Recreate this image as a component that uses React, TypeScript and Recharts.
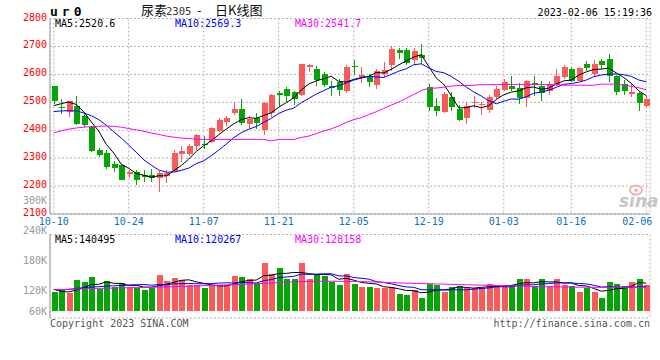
import React from 'react';
import { ComposedChart, Bar, Line, XAxis, YAxis, CartesianGrid } from 'recharts';

const dates = [
  '10-10','10-11','10-12','10-13','10-14','10-17','10-18','10-19','10-20','10-21',
  '10-24','10-25','10-26','10-27','10-28','10-31','11-01','11-02','11-03','11-04',
  '11-07','11-08','11-09','11-10','11-11','11-14','11-15','11-16','11-17','11-18',
  '11-21','11-22','11-23','11-24','11-25','11-28','11-29','11-30','12-01','12-02',
  '12-05','12-06','12-07','12-08','12-09','12-12','12-13','12-14','12-15','12-16',
  '12-19','12-20','12-21','12-22','12-23','12-26','12-27','12-28','12-29','12-30',
  '01-03','01-04','01-05','01-06','01-09','01-10','01-11','01-12','01-13','01-16',
  '01-17','01-18','01-19','01-20','01-30','01-31','02-01','02-02','02-03','02-06',
];

const opens = [
  2557,2484,2465,2487,2452,2412,2330,2319,2280,2276,
  2243,2252,2241,2240,2230,2237,2255,2316,2316,2343,
  2352,2358,2397,2430,2460,2477,2424,2444,2401,2463,
  2535,2549,2538,2525,2625,2620,2601,2558,2571,2542,
  2631,2592,2592,2561,2600,2635,2688,2688,2652,2670,
  2556,2485,2466,2520,2476,2443,2497,2491,2472,2518,
  2545,2557,2551,2516,2569,2557,2540,2563,2590,2620,
  2577,2638,2602,2649,2656,2593,2566,2528,2535,2486,
];
const highs = [
  2560,2512,2506,2523,2460,2414,2338,2328,2288,2278,
  2258,2258,2258,2262,2254,2257,2330,2342,2350,2388,
  2378,2413,2442,2450,2501,2513,2452,2460,2501,2530,
  2542,2554,2539,2638,2638,2629,2608,2577,2583,2635,
  2652,2625,2601,2620,2646,2700,2694,2694,2694,2710,
  2566,2516,2537,2537,2492,2501,2524,2502,2527,2557,
  2585,2593,2569,2581,2593,2577,2575,2620,2635,2623,
  2626,2649,2652,2656,2674,2597,2581,2569,2537,2522,
];
const lows = [
  2494,2457,2448,2418,2413,2322,2305,2260,2251,2220,
  2228,2205,2216,2213,2180,2211,2252,2285,2308,2330,
  2334,2354,2394,2415,2453,2418,2403,2405,2382,2448,
  2486,2500,2489,2522,2607,2557,2554,2524,2524,2533,
  2596,2569,2554,2549,2590,2611,2656,2635,2635,2638,
  2470,2450,2460,2468,2432,2423,2480,2456,2462,2510,
  2542,2539,2494,2483,2522,2504,2525,2557,2585,2571,
  2575,2611,2591,2620,2573,2527,2525,2518,2468,2482,
];
const closes = [
  2506,2478,2503,2422,2420,2326,2313,2267,2264,2222,
  2251,2223,2234,2229,2248,2247,2318,2326,2345,2384,
  2348,2407,2437,2444,2477,2426,2440,2425,2496,2525,
  2526,2522,2510,2636,2634,2581,2563,2552,2543,2625,
  2627,2596,2572,2613,2617,2692,2676,2641,2685,2658,
  2482,2468,2528,2482,2438,2488,2501,2493,2520,2548,
  2573,2548,2516,2575,2561,2532,2567,2595,2628,2576,
  2622,2623,2638,2635,2594,2536,2540,2536,2499,2510,
];
const priceMa5 = [
  2488,2495,2501,2492,2465.8,2429.8,2396.8,2349.6,2318,2278.4,
  2263.4,2245.4,2238.8,2231.8,2237,2236.2,2255.2,2273.6,2296.8,2324,
  2344.2,2362,2384.2,2404,2422.6,2438.2,2444.8,2442.4,2452.8,2462.4,
  2482.4,2498.8,2515.8,2543.8,2565.6,2576.6,2584.8,2593.2,2574.6,2572.8,
  2582,2588.6,2592.6,2606.6,2605,2618,2634,2647.8,2662.2,2670.4,
  2628.4,2586.8,2564.2,2523.6,2479.6,2480.8,2487.4,2480.4,2488,2510,
  2527,2536.4,2541,2552,2554.6,2546.4,2550.2,2566,2576.6,2579.6,
  2597.6,2608.8,2617.4,2618.8,2622.4,2605.2,2588.6,2568.2,2541,2524.2,
];
const priceMa10 = [
  2467,2469,2470,2469,2462,2452,2438,2418,2394,2372.1,
  2346.6,2321.1,2294.2,2274.9,2257.7,2249.8,2250.3,2256.2,2264.3,2280.5,
  2290.2,2308.6,2328.9,2350.4,2373.3,2391.2,2403.4,2413.3,2428.4,2442.5,
  2460.3,2471.8,2479.1,2498.3,2514,2529.5,2541.8,2554.5,2559.2,2569.2,
  2579.3,2586.7,2592.9,2590.6,2588.9,2600,2611.3,2620.2,2634.4,2637.7,
  2623.2,2610.4,2606,2592.9,2575,2554.6,2537.1,2522.3,2505.8,2494.8,
  2503.9,2511.9,2510.7,2520,2532.3,2536.7,2543.3,2553.5,2564.3,2567.1,
  2572,2579.5,2591.7,2597.7,2601,2601.4,2598.7,2592.8,2579.9,2573.3,
];
const priceMa30 = [
  2390,2398,2404,2408,2411,2413,2414,2415,2414,2411,
  2406,2401,2396,2390,2385,2379,2375,2372,2370,2368,
  2367,2367,2367,2367,2367,2367,2367,2367,2367,2362,
  2367,2367,2367,2374,2379,2388,2397,2405,2415,2428,
  2438,2445,2456,2466,2478,2490,2501,2514,2528,2542,
  2550,2551,2554,2558,2560,2560,2561,2563,2563,2563,
  2564,2564,2564,2564,2564,2564,2563,2563,2561,2561,
  2561,2561,2561,2565,2565,2565,2561,2557,2552,2545,
];

const volumes = [
  114700,120500,111900,148300,142500,157800,123300,147300,128100,140600,
  128100,126200,121400,126200,163600,147300,155000,149200,133900,133900,
  126200,133900,133900,133900,160700,158800,152100,139600,198000,166500,
  183700,153000,152100,198000,152100,166500,159800,143500,134800,166500,
  138700,129100,129100,126200,126200,129100,109000,106100,121400,97500,
  137700,134800,115700,129100,132900,126200,126200,126200,137700,133900,
  133900,135800,152100,152100,131000,152100,131000,152100,135800,132900,
  114700,126200,114700,97500,143500,137700,132900,143500,152100,135800,
];
const volMa5 = [
  122400,116600,114700,120500,127600,136200,136800,143800,139800,139400,
  133500,134100,128900,128500,133100,136900,142700,148300,149800,143900,
  139600,135400,132400,132400,137700,144200,147900,149000,161800,163000,
  168000,168200,170700,170700,167800,164300,165700,164000,151300,154200,
  148700,142500,139600,137900,129900,127900,123900,119300,118400,112600,
  114300,119500,121400,123000,130000,127700,126000,128100,129800,130000,
  131600,133500,138700,141600,141000,144600,143700,143700,140400,140800,
  133300,132300,124900,117200,119300,123900,125300,131000,141900,140400,
];
const volMa10 = [
  122000,121000,122000,125000,127000,129000,130000,131500,132500,133500,
  134800,135400,136400,134200,136300,135200,138400,138600,139200,138500,
  138300,139100,140300,141100,140800,141900,141700,140700,147100,150400,
  156100,158000,159800,166300,165400,166200,166900,167300,161000,161000,
  156500,154100,151800,144600,142000,138300,133200,129500,128100,121200,
  121100,121700,120400,120700,121300,121000,122800,124800,126400,130000,
  129700,129800,133400,135700,135500,138100,138600,141200,141000,140900,
  139000,138000,134300,128800,130100,128600,128800,127900,129600,129900,
];
const volMa30 = [
  121400,122000,122600,123300,124000,124500,125000,125500,126000,126500,
  127000,127400,127800,128200,128800,129500,130200,130900,131600,132300,
  133000,133700,134400,135100,135800,136600,137500,138500,139500,140600,
  141700,142800,143700,144500,145000,145400,145600,145600,145400,145200,
  145000,144500,144000,143300,142500,141500,140800,140200,139600,139000,
  138500,138000,137400,136800,136200,135600,135000,134400,133800,133200,
  132600,132100,131600,131200,130800,130400,130000,129600,129200,128800,
  128500,128300,128200,128100,128100,128100,128100,128100,128200,128200,
];

const dateTicks = ['10-10','10-24','11-07','11-21','12-05','12-19','01-03','01-16','02-06'];
const priceTicks = [2100,2200,2300,2400,2500,2600,2700,2800];
const priceDomain = [2100, 2800];
const volDomain = [40000, 280000];
const volLabelTicks = [60000, 120000, 180000, 240000];
const volGridTicks = [100000, 160000, 220000];
const VOL_BASE = 60000;

const symbolText = 'ur0';
const titleParts = ['尿素', '2305', '-', '日K线图'];
const timeText = '2023-02-06 15:19:36';
const priceMaLabels = ['MA5:2520.6', 'MA10:2569.3', 'MA30:2541.7'];
const volMaLabels = ['MA5:140495', 'MA10:120267', 'MA30:128158'];
const extraVolLabel = '300K';
const copyrightText = 'Copyright 2023 SINA.COM';
const urlText = 'http://finance.sina.com.cn';

const RED = '#f95a5a';
const GREEN = '#05a505';
const GRID = '#b4b4b4';
const BORDER = '#9c9c9c';
const MONO = '"DejaVu Sans Mono", "Liberation Mono", monospace';
const CJK = '"Noto Sans CJK SC", sans-serif';
const MA_COLORS = ['#000000', '#0000ff', '#ff00ff'];

const priceData = dates.map((date, i) => ({
  date, open: opens[i], high: highs[i], low: lows[i], close: closes[i],
  ma5: priceMa5[i], ma10: priceMa10[i], ma30: priceMa30[i],
}));
const volumeData = dates.map((date, i) => ({
  date, vol: volumes[i], up: closes[i] >= opens[i],
  ma5: volMa5[i], ma10: volMa10[i], ma30: volMa30[i],
}));

const Candle = (props: any) => {
  const { x, y, width, height, payload } = props;
  const { open, close, high, low } = payload;
  const color = close >= open ? RED : GREEN;
  const cx = Math.floor(x + width / 2);
  const range = high - low || 1;
  const pix = (v: number) => y + ((high - v) / range) * height;
  const top = Math.round(pix(Math.max(open, close)));
  const bot = Math.round(pix(Math.min(open, close)));
  return (
    <g>
      <line x1={cx + 0.5} x2={cx + 0.5} y1={Math.round(y)} y2={Math.round(y + height)} stroke={color} strokeWidth={1} />
      <rect x={cx - 2} y={top} width={6} height={Math.max(1, bot - top)} fill={color} />
    </g>
  );
};

const VolumeBar = (props: any) => {
  const { x, y, width, height, payload } = props;
  const cx = Math.floor(x + width / 2);
  const top = Math.round(y);
  const bot = Math.round(y + height);
  return <rect x={cx - 2} y={top} width={6} height={Math.max(1, bot - top)} fill={payload.up ? RED : GREEN} />;
};

const DateTick = (props: any) => {
  const { x, y, payload } = props;
  const isLast = payload.value === dates[dates.length - 1];
  return (
    <text x={isLast ? x + 6 : x} y={y + 7.5} textAnchor={isLast ? 'end' : 'middle'} fill="#0a72c4" fontSize={10} fontFamily={MONO}>
      {payload.value}
    </text>
  );
};

const PriceTick = (props: any) => {
  const { x, y, payload } = props;
  return (
    <text x={x} y={y + 2} textAnchor="end" fill="#ff0000" fontSize={10} fontFamily={MONO}>
      {payload.value}
    </text>
  );
};

const VOL_LABEL_SHIFT: Record<number, number> = { 180000: -8.5, 240000: -17.5 };
const VolTick = (props: any) => {
  const { x, y, payload } = props;
  const shift = VOL_LABEL_SHIFT[payload.value] || 0;
  return (
    <text x={x} y={y + shift + 3.5} textAnchor="end" fill="#999999" fontSize={10} fontFamily={MONO}>
      {`${payload.value / 1000}K`}
    </text>
  );
};

const maKeys = ['ma5', 'ma10', 'ma30'];

export default function App() {
  return (
    <div style={{ position: 'fixed', left: 0, top: 0, width: 660, height: 360, background: '#fff', overflow: 'hidden' }}>
      <div style={{ position: 'absolute', left: 0, top: 0 }}>
        <ComposedChart width={660} height={232} data={priceData} margin={{ top: 18.5, right: 10, bottom: 0, left: 0 }}>
          <CartesianGrid stroke={GRID} strokeDasharray="2 2" />
          <XAxis dataKey="date" type="category" ticks={dateTicks} interval={0} tickSize={0} tickMargin={3}
            tick={<DateTick />} height={18} axisLine={{ stroke: BORDER }} />
          <XAxis xAxisId="t" dataKey="date" orientation="top" tick={false} tickLine={false} height={0} axisLine={{ stroke: BORDER }} />
          <YAxis type="number" domain={priceDomain} ticks={priceTicks} width={50} tickSize={0} tickMargin={3}
            tick={<PriceTick />} axisLine={{ stroke: BORDER }} interval={0} />
          <YAxis yAxisId="r" orientation="right" domain={priceDomain} width={0} tick={false} tickLine={false} axisLine={{ stroke: BORDER }} />
          <Bar dataKey={(d: any) => [d.low, d.high]} barSize={6} shape={<Candle />} isAnimationActive={false} />
          {maKeys.map((k, i) => (
            <Line key={k} dataKey={k} type="linear" stroke={MA_COLORS[i]} strokeWidth={1} dot={false} activeDot={false} isAnimationActive={false} />
          ))}
        </ComposedChart>
      </div>
      <div style={{ position: 'absolute', left: 0, top: 220 }}>
        <ComposedChart width={660} height={110} data={volumeData} margin={{ top: 14.5, right: 10, bottom: 12, left: 0 }}>
          <CartesianGrid stroke={GRID} strokeDasharray="2 2" />
          <XAxis dataKey="date" type="category" ticks={dateTicks} interval={0} tick={false} tickLine={false} height={0} axisLine={{ stroke: BORDER }} />
          <XAxis xAxisId="t" dataKey="date" orientation="top" tick={false} tickLine={false} height={0} axisLine={{ stroke: BORDER }} />
          <YAxis yAxisId="v" type="number" domain={volDomain} ticks={volLabelTicks} width={50} tickSize={0} tickMargin={3}
            tick={<VolTick />} axisLine={{ stroke: BORDER }} interval={0} />
          <YAxis yAxisId={0} orientation="right" domain={volDomain} ticks={volGridTicks} width={0} tick={false} tickLine={false} axisLine={{ stroke: BORDER }} />
          <Bar yAxisId="v" dataKey={(d: any) => [VOL_BASE, d.vol]} barSize={6} shape={<VolumeBar />} isAnimationActive={false} />
          {maKeys.map((k, i) => (
            <Line key={k} yAxisId="v" dataKey={k} type="linear" stroke={MA_COLORS[i]} strokeWidth={1} dot={false} activeDot={false} isAnimationActive={false} />
          ))}
        </ComposedChart>
      </div>
      <svg width={660} height={360} style={{ position: 'absolute', left: 0, top: 0, pointerEvents: 'none' }}>
        <text x={50} y={15.5} fontSize={13} fontWeight="bold" letterSpacing={4} fontFamily={MONO} fill="#000">{symbolText}</text>
        <text x={141} y={15} fontSize={13} fontFamily={CJK} fill="#111">{titleParts[0]}</text>
        <text x={166} y={15} fontSize={10.5} fontFamily={MONO} fill="#333">{titleParts[1]}</text>
        <text x={197} y={15} fontSize={13} fontFamily={CJK} fill="#111">{titleParts[2]}</text>
        <text x={215} y={15} fontSize={13} fontFamily={CJK} fill="#111">{titleParts[3]}</text>
        <text x={652} y={15.5} fontSize={10} textAnchor="end" fontFamily={MONO} fill="#000">{timeText}</text>
        {priceMaLabels.map((t, i) => (
          <text key={t} x={55 + i * 120} y={26.5} fontSize={10} fontFamily={MONO} fill={MA_COLORS[i]}>{t}</text>
        ))}
        {volMaLabels.map((t, i) => (
          <text key={t} x={55 + i * 120} y={242.5} fontSize={10} fontFamily={MONO} fill={MA_COLORS[i]}>{t}</text>
        ))}
        <text x={47} y={204.3} fontSize={10} textAnchor="end" fontFamily={MONO} fill="#999999">{extraVolLabel}</text>
        <g>
          <ellipse cx={636} cy={190} rx={6} ry={4.5} fill="none" stroke="#f3b2b2" strokeWidth={2} />
          <circle cx={636} cy={190.5} r={1.8} fill="#f3b2b2" />
          <text x={619} y={206.5} fontSize={17} fontStyle="italic" fontWeight="bold" fill="#c6c6c6" fontFamily='"DejaVu Sans", sans-serif'>sina</text>
        </g>
        <text x={50} y={326.5} fontSize={10} fontFamily={MONO} fill="#555">{copyrightText}</text>
        <text x={650} y={326.5} fontSize={10} textAnchor="end" fontFamily={MONO} fill="#555">{urlText}</text>
      </svg>
    </div>
  );
}
